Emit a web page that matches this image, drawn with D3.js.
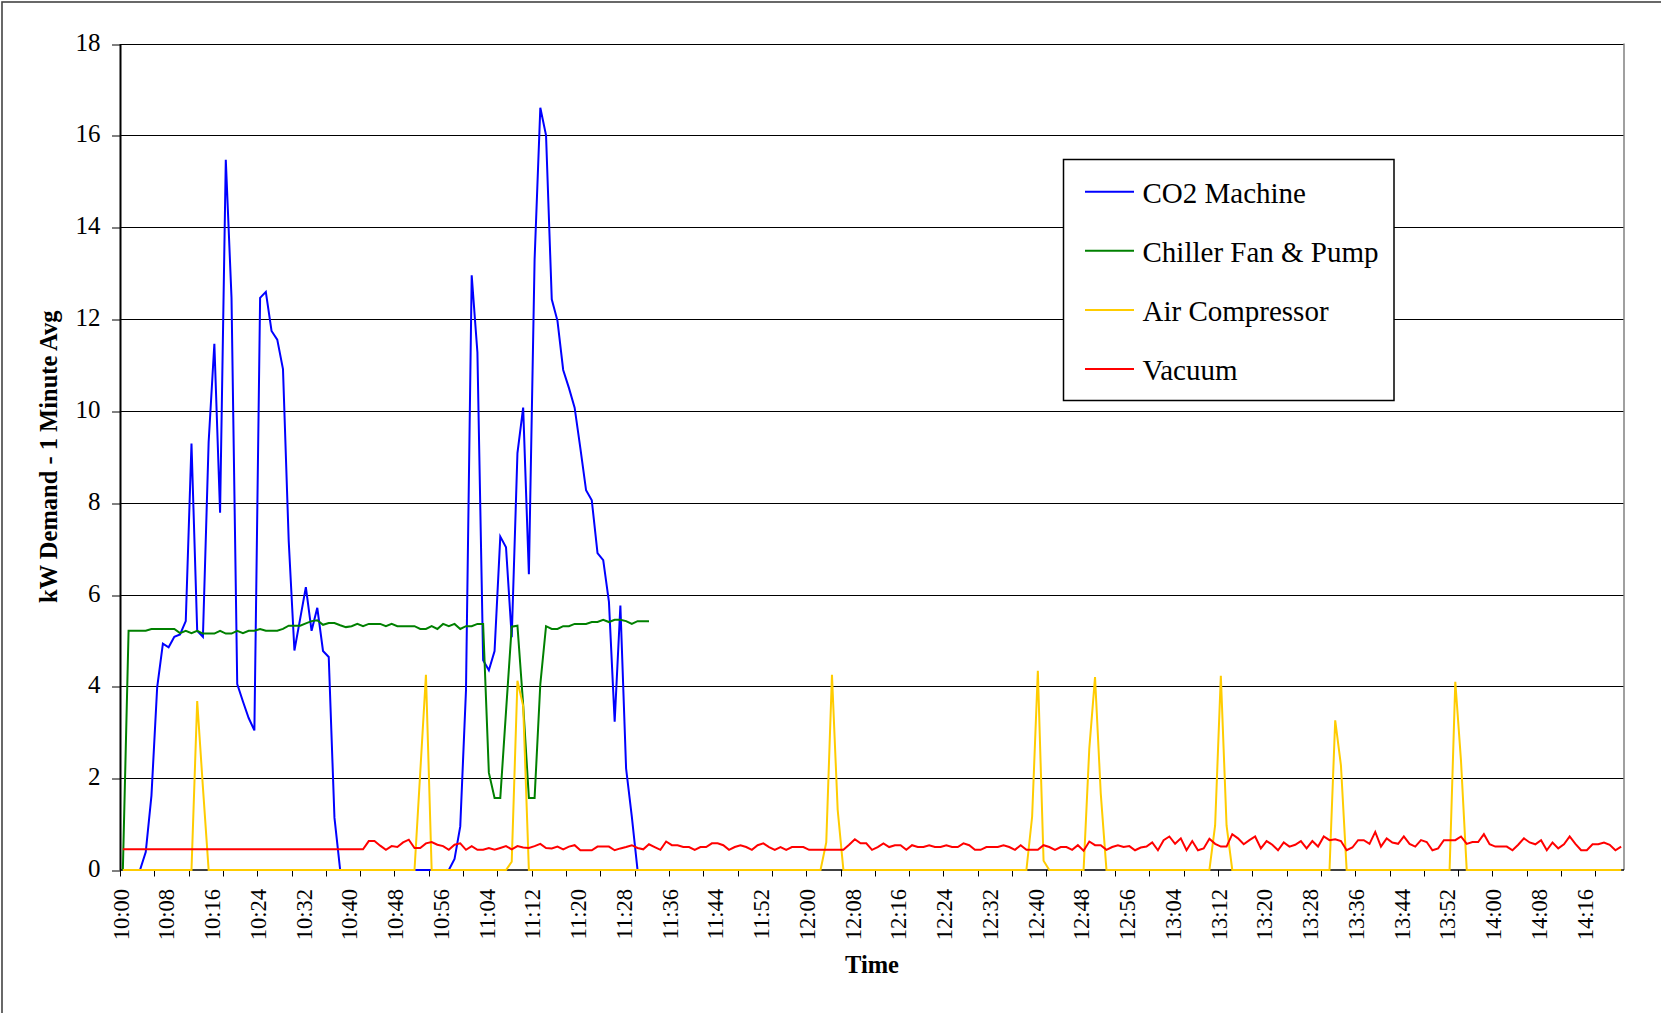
<!DOCTYPE html>
<html><head><meta charset="utf-8">
<script src="https://cdn.jsdelivr.net/npm/d3@7"></script>
<style>html,body{margin:0;padding:0;background:#fff;overflow:hidden}</style>
</head><body>
<svg id="chart" width="1661" height="1013"></svg>
<script>
// ---------------- DATA ----------------
const startTime = "10:00";           // first category (1-minute categories)
const seriesNames = ["CO2 Machine", "Chiller Fan & Pump", "Air Compressor", "Vacuum"];
const seriesColors = ["#0000FF", "#008000", "#FFCC00", "#FF0000"];

const co2Machine = [
  0,0,0,0,0.39,1.62,3.98,4.93,4.85,5.08,
  5.13,5.42,9.29,5.21,5.08,9.32,11.46,7.78,15.47,12.46,
  4.05,3.67,3.31,3.04,12.46,12.59,11.74,11.55,10.91,7.17,
  4.78,5.47,6.16,5.21,5.71,4.77,4.64,1.14,0,0,
  0,0,0,0,0,0,0,0,0,0,
  0,0,0,0,0,0,0,0,0.24,0.95,
  3.91,12.95,11.27,4.57,4.35,4.77,7.26,7.03,5.07,9.08,
  10.07,6.44,13.3,16.6,16.0,12.43,11.96,10.89,10.5,10.07,
  9.19,8.27,8.05,6.9,6.75,5.84,3.23,5.76,2.21,1.16,
  0,0,0
];
const chillerFanPump = [
  0,5.21,5.21,5.21,5.21,5.25,5.25,5.25,5.25,5.25,
  5.16,5.21,5.16,5.21,5.15,5.15,5.15,5.21,5.15,5.15,
  5.21,5.16,5.21,5.21,5.25,5.21,5.21,5.21,5.25,5.32,
  5.32,5.32,5.37,5.42,5.44,5.34,5.38,5.38,5.33,5.29,
  5.31,5.36,5.31,5.36,5.36,5.36,5.31,5.36,5.31,5.31,
  5.31,5.31,5.25,5.25,5.31,5.25,5.36,5.31,5.36,5.25,
  5.31,5.31,5.36,5.36,2.12,1.57,1.57,3.45,5.3,5.32,
  3.6,1.57,1.57,4.05,5.31,5.25,5.25,5.31,5.31,5.36,
  5.36,5.36,5.4,5.4,5.45,5.4,5.45,5.45,5.42,5.36,
  5.42,5.42,5.42
];
const airCompressor = [
  0,0,0,0,0,0,0,0,0,0,
  0,0,0,3.68,1.8,0,0,0,0,0,
  0,0,0,0,0,0,0,0,0,0,
  0,0,0,0,0,0,0,0,0,0,
  0,0,0,0,0,0,0,0,0,0,
  0,0,2.12,4.25,0,0,0,0,0,0,
  0,0,0,0,0,0,0,0,0.18,4.12,
  3.57,0,0,0,0,0,0,0,0,0,
  0,0,0,0,0,0,0,0,0,0,
  0,0,0,0,0,0,0,0,0,0,
  0,0,0,0,0,0,0,0,0,0,
  0,0,0,0,0,0,0,0,0,0,
  0,0,0,0.6,4.25,1.31,0,0,0,0,
  0,0,0,0,0,0,0,0,0,0,
  0,0,0,0,0,0,0,0,0,0,
  0,0,0,0,0,0,0,0,0,1.16,
  4.34,0.2,0,0,0,0,0,0,0,2.65,
  4.2,1.67,0,0,0,0,0,0,0,0,
  0,0,0,0,0,0,0,0,0,0,
  0,0.97,4.23,0.97,0,0,0,0,0,0,
  0,0,0,0,0,0,0,0,0,0,
  0,0,3.26,2.28,0,0,0,0,0,0,
  0,0,0,0,0,0,0,0,0,0,
  0,0,0,4.1,2.37,0,0,0,0,0,
  0,0,0,0,0,0,0,0,0,0,
  0,0,0,0,0,0,0,0,0,0,
  0,0,0
];
const vacuum = [
  0.45,0.45,0.45,0.45,0.45,0.45,0.45,0.45,0.45,0.45,
  0.45,0.45,0.45,0.45,0.45,0.45,0.45,0.45,0.45,0.45,
  0.45,0.45,0.45,0.45,0.45,0.45,0.45,0.45,0.45,0.45,
  0.45,0.45,0.45,0.45,0.45,0.45,0.45,0.45,0.45,0.45,
  0.45,0.45,0.45,0.63,0.63,0.53,0.44,0.52,0.5,0.6,
  0.66,0.48,0.48,0.58,0.61,0.55,0.52,0.44,0.55,0.58,
  0.44,0.52,0.44,0.44,0.48,0.44,0.48,0.52,0.45,0.52,
  0.49,0.48,0.52,0.57,0.48,0.47,0.51,0.45,0.51,0.54,
  0.43,0.43,0.43,0.51,0.51,0.51,0.43,0.47,0.5,0.54,
  0.48,0.45,0.56,0.5,0.44,0.62,0.54,0.54,0.5,0.5,
  0.44,0.5,0.5,0.58,0.58,0.54,0.44,0.5,0.54,0.5,
  0.44,0.54,0.58,0.5,0.44,0.5,0.44,0.5,0.5,0.5,
  0.44,0.44,0.44,0.44,0.44,0.44,0.44,0.55,0.67,0.58,
  0.58,0.44,0.5,0.58,0.5,0.54,0.54,0.44,0.54,0.5,
  0.5,0.54,0.5,0.5,0.54,0.5,0.5,0.58,0.54,0.44,
  0.44,0.5,0.5,0.5,0.54,0.5,0.44,0.54,0.44,0.44,
  0.44,0.54,0.5,0.44,0.5,0.5,0.44,0.54,0.42,0.62,
  0.54,0.54,0.44,0.5,0.54,0.5,0.52,0.43,0.49,0.51,
  0.6,0.43,0.65,0.73,0.57,0.69,0.43,0.63,0.43,0.47,
  0.68,0.57,0.51,0.51,0.78,0.69,0.56,0.65,0.73,0.47,
  0.63,0.55,0.43,0.6,0.51,0.55,0.63,0.47,0.63,0.51,
  0.73,0.65,0.67,0.63,0.43,0.49,0.65,0.65,0.57,0.83,
  0.51,0.69,0.6,0.57,0.73,0.57,0.51,0.65,0.61,0.43,
  0.47,0.65,0.65,0.65,0.73,0.57,0.61,0.61,0.78,0.56,
  0.51,0.51,0.51,0.43,0.55,0.69,0.6,0.56,0.65,0.43,
  0.6,0.47,0.56,0.73,0.57,0.43,0.43,0.56,0.56,0.6,
  0.55,0.43,0.51
];
const yTickValues = [0,2,4,6,8,10,12,14,16,18];
const xTickLabels = ["10:00","10:08","10:16","10:24","10:32","10:40","10:48","10:56",
  "11:04","11:12","11:20","11:28","11:36","11:44","11:52","12:00","12:08","12:16",
  "12:24","12:32","12:40","12:48","12:56","13:04","13:12","13:20","13:28","13:36",
  "13:44","13:52","14:00","14:08","14:16"];
const xTickMarkEvery = 6;
const yTitle = "kW Demand - 1 Minute Avg";
const xTitle = "Time";

// ---------------- CHART ----------------
const FONT = "'Liberation Serif','Times New Roman',Times,serif";
const svg = d3.select("#chart");
const L = 120, R = 1624, T = 43.5, B = 870;

const nCat = vacuum.length;
const [sh, sm] = startTime.split(":").map(Number);
const categories = d3.range(nCat).map(i => {
  const t = sh * 60 + sm + i;
  return Math.floor(t / 60) + ":" + String(t % 60).padStart(2, "0");
});

const x = d3.scaleBand().domain(categories).range([L, R]).paddingInner(0).paddingOuter(0);
const cx = c => x(c) + x.bandwidth() / 2;
const y = d3.scaleLinear().domain([0, 18]).range([B, T]);

// outer frame
svg.append("rect").attr("x", 2).attr("y", 2).attr("width", 1800).attr("height", 1200)
  .attr("fill", "none").attr("stroke", "#444").attr("stroke-width", 1.6);

// gridlines
svg.append("g").selectAll("line").data(yTickValues.filter(v => v > 0)).join("line")
  .attr("x1", L).attr("x2", R)
  .attr("y1", d => Math.round(y(d)) + 0.5).attr("y2", d => Math.round(y(d)) + 0.5)
  .attr("stroke", "#000").attr("stroke-width", 1);

// right plot border
svg.append("line").attr("x1", R).attr("x2", R).attr("y1", T).attr("y2", B)
  .attr("stroke", "#808080").attr("stroke-width", 1.5);

// y axis
const yAxis = svg.append("g").attr("transform", `translate(${L},0)`)
  .call(d3.axisLeft(y).tickValues(yTickValues).tickSize(8).tickSizeOuter(0).tickFormat(d3.format("d")));
yAxis.select(".domain").attr("stroke", "#000").attr("stroke-width", 2);
yAxis.selectAll(".tick line").attr("stroke", "#000").attr("stroke-width", 1)
  .attr("transform", d => `translate(0,${Math.round(y(d)) + 0.5 - y(d)})`);
yAxis.selectAll(".tick text").attr("x", -19.5).attr("dy", "6.5px")
  .attr("font-family", FONT).attr("font-size", 25).attr("fill", "#000");

// x axis line
svg.append("line").attr("x1", L).attr("x2", R).attr("y1", B).attr("y2", B)
  .attr("stroke", "#000").attr("stroke-width", 1.5);

// x tick marks (category boundaries)
const tickIdx = d3.range(0, nCat, xTickMarkEvery);
svg.append("g").selectAll("line").data(tickIdx).join("line")
  .attr("x1", d => Math.round(x(categories[d])) + 0.5).attr("x2", d => Math.round(x(categories[d])) + 0.5)
  .attr("y1", B).attr("y2", B + 6.5)
  .attr("stroke", "#000").attr("stroke-width", 1);

// x tick labels
svg.append("g").selectAll("text").data(xTickLabels).join("text")
  .attr("transform", d => `translate(${cx(d) + 5.8},889) rotate(-90)`)
  .attr("text-anchor", "end")
  .attr("font-family", FONT).attr("font-size", 22.5).attr("fill", "#000")
  .text(d => d);

// series
const allSeries = [co2Machine, chillerFanPump, airCompressor, vacuum];
const line = d3.line().x((d, i) => cx(categories[i])).y(d => y(d));
svg.append("g").selectAll("path").data(allSeries).join("path")
  .attr("d", d => line(d))
  .attr("fill", "none")
  .attr("stroke", (d, i) => seriesColors[i])
  .attr("stroke-width", 2)
  .attr("stroke-linejoin", "miter");

// axis titles
svg.append("text").attr("transform", `translate(57,${(T + B) / 2}) rotate(-90)`)
  .attr("text-anchor", "middle").attr("font-family", FONT).attr("font-weight", "bold")
  .attr("font-size", 24.5).text(yTitle);
svg.append("text").attr("x", (L + R) / 2).attr("y", 972.5)
  .attr("text-anchor", "middle").attr("font-family", FONT).attr("font-weight", "bold")
  .attr("font-size", 24.5).text(xTitle);

// legend
const lg = svg.append("g");
lg.append("rect").attr("x", 1063.5).attr("y", 159.5).attr("width", 330.5).attr("height", 241)
  .attr("fill", "#fff").attr("stroke", "#000").attr("stroke-width", 1.5);
const rowY = i => 191.7 + i * 59.1;
lg.selectAll("line.lg").data(seriesNames).join("line").attr("class", "lg")
  .attr("x1", 1085).attr("x2", 1134)
  .attr("y1", (d, i) => rowY(i)).attr("y2", (d, i) => rowY(i))
  .attr("stroke", (d, i) => seriesColors[i]).attr("stroke-width", 2);
lg.selectAll("text").data(seriesNames).join("text")
  .attr("x", 1142.5).attr("y", (d, i) => rowY(i) + 11)
  .attr("font-family", FONT).attr("font-size", 29).attr("fill", "#000")
  .text(d => d);
</script>
</body></html>
